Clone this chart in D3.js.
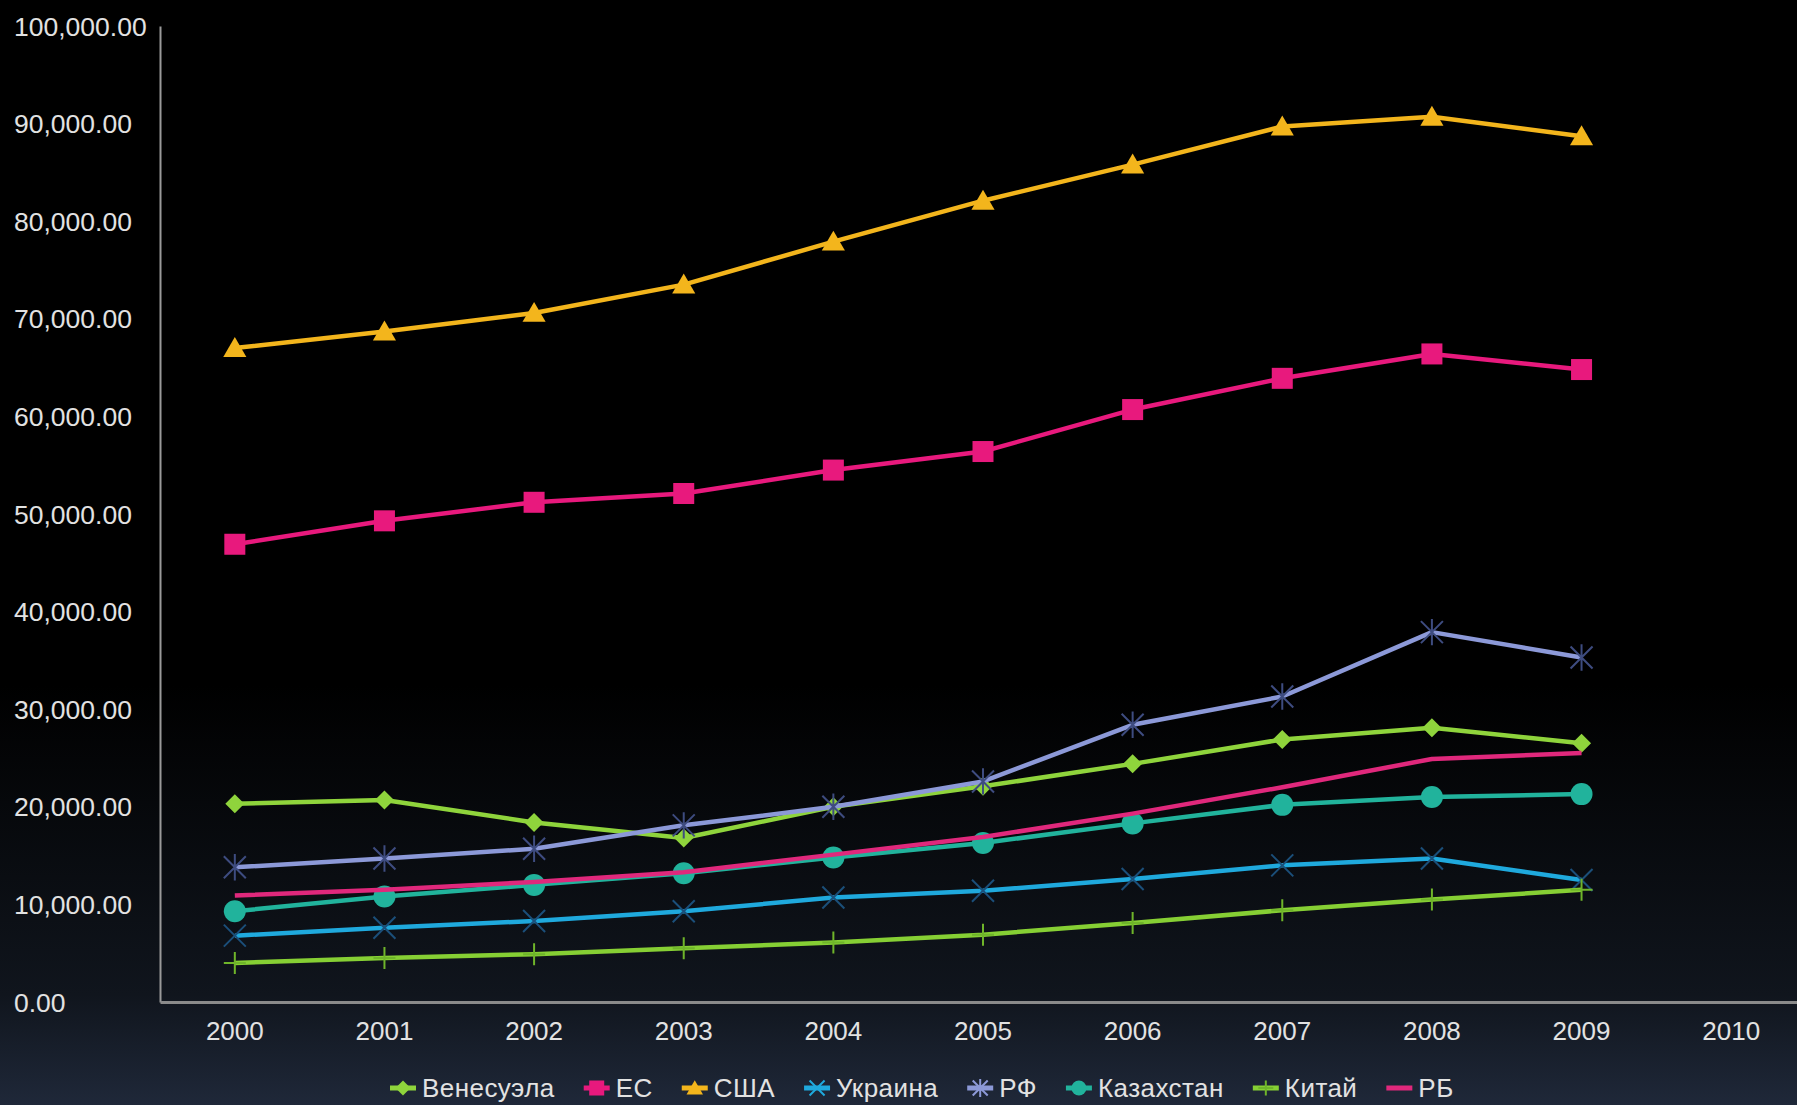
<!DOCTYPE html>
<html>
<head>
<meta charset="utf-8">
<script src="https://cdn.jsdelivr.net/npm/d3@7"></script>
<style>
html,body{margin:0;padding:0;background:#000;}
svg{display:block;}
</style>
</head>
<body>
<svg id="chart" width="1797" height="1105"></svg>
<script>
// ---- data ----
const years = ["2000","2001","2002","2003","2004","2005","2006","2007","2008","2009","2010"];
const yTicks = [0,10000,20000,30000,40000,50000,60000,70000,80000,90000,100000];
const seriesNames = ["Венесуэла","ЕС","США","Украина","РФ","Казахстан","Китай","РБ"];
const venezuela = [20300,20700,18400,16800,20000,22100,24400,26900,28100,26500];
const eu        = [46900,49300,51200,52100,54500,56400,60700,63900,66400,64800];
const usa       = [67000,68700,70600,73500,77900,82100,85800,89700,90700,88700];
const ukraine   = [6800,7600,8300,9300,10700,11400,12600,14000,14700,12500];
const russia    = [13800,14700,15700,18100,20000,22600,28400,31300,37900,35300];
const kazakh    = [9300,10800,12000,13200,14800,16300,18300,20200,21000,21300];
const china     = [4000,4500,4900,5500,6100,6900,8100,9400,10500,11500];
const belarus   = [10900,11500,12300,13300,15100,16900,19300,22000,24900,25500];

const seriesValues = [venezuela, eu, usa, ukraine, russia, kazakh, china, belarus];
const colors  = ["#8fd43c","#e8197d","#f3b51c","#1fa9dd","#8c99d8","#21b39c","#86cf34","#e0287c"];
const markers = ["diamond","square","triangle","x","asterisk","circle","plus","none"];
const markerColors = ["#8fd43c","#e8197d","#f3b51c","#1b4f7a","#3e4c80","#21b39c","#6fb52a","none"];

// ---- layout ----
const svg = d3.select("#chart");
const W = 1797, H = 1105;
const plot = {left:160, top:26, bottom:1002, right:1806};

const defs = svg.append("defs");
const grad = defs.append("linearGradient").attr("id","bg").attr("x1",0).attr("y1",0).attr("x2",0).attr("y2",1);
grad.append("stop").attr("offset","0%").attr("stop-color","#000000");
grad.append("stop").attr("offset","62%").attr("stop-color","#000000");
grad.append("stop").attr("offset","90%").attr("stop-color","#10151d");
grad.append("stop").attr("offset","100%").attr("stop-color","#1f2839");
svg.append("rect").attr("width",W).attr("height",H).attr("fill","url(#bg)");

const x = d3.scaleBand().domain(years).range([plot.left, plot.right]).padding(0);
const y = d3.scaleLinear().domain([0,100000]).range([plot.bottom, plot.top]);
const cx = d => x(d) + x.bandwidth()/2;

const fontFam = "'Liberation Sans', Arial, sans-serif";
const textColor = "#e2e2e2";

// y axis labels (left aligned)
const fmt = d3.format(",.2f");
svg.append("g").selectAll("text").data(yTicks).join("text")
  .attr("x", 14).attr("y", d => y(d)).attr("dy","0.36em")
  .attr("font-family", fontFam).attr("font-size", 26.5).attr("fill", textColor)
  .text(d => fmt(d));

// axes
const yAxis = svg.append("g").attr("transform",`translate(${plot.left},0)`)
  .call(d3.axisLeft(y).tickValues([]).tickSizeOuter(0));
yAxis.select(".domain").attr("stroke","#9a9a9a").attr("stroke-width",2);

const xAxis = svg.append("g").attr("transform",`translate(0,${plot.bottom})`)
  .call(d3.axisBottom(x).tickSize(0).tickPadding(20));
xAxis.select(".domain").attr("stroke","#8a8a8a").attr("stroke-width",3);
xAxis.selectAll("text").attr("font-family", fontFam).attr("font-size", 26)
  .attr("fill", textColor).attr("dy","0.71em");

// marker drawing
function drawMarker(g, type, px, py, col, s) {
  const r = s/2;
  if (type === "diamond") {
    g.append("path").attr("d", `M${px},${py-r}L${px+r},${py}L${px},${py+r}L${px-r},${py}Z`).attr("fill", col);
  } else if (type === "square") {
    g.append("rect").attr("x", px-r).attr("y", py-r).attr("width", s).attr("height", s).attr("fill", col);
  } else if (type === "triangle") {
    g.append("path").attr("d", `M${px},${py-r*1.05}L${px+r*1.1},${py+r*0.85}L${px-r*1.1},${py+r*0.85}Z`).attr("fill", col);
  } else if (type === "circle") {
    g.append("circle").attr("cx", px).attr("cy", py).attr("r", r).attr("fill", col);
  } else if (type === "x") {
    g.append("path").attr("d", `M${px-r},${py-r}L${px+r},${py+r}M${px-r},${py+r}L${px+r},${py-r}`)
      .attr("stroke", col).attr("stroke-width", 2).attr("fill","none");
  } else if (type === "asterisk") {
    g.append("path").attr("d", `M${px-r},${py-r}L${px+r},${py+r}M${px-r},${py+r}L${px+r},${py-r}M${px},${py-r*1.2}L${px},${py+r*1.2}`)
      .attr("stroke", col).attr("stroke-width", 2).attr("fill","none");
  } else if (type === "plus") {
    g.append("path").attr("d", `M${px},${py-r}L${px},${py+r}M${px-r},${py}L${px+r},${py}`)
      .attr("stroke", col).attr("stroke-width", 2).attr("fill","none");
  }
}
const markerSizes = {diamond:19, square:21, triangle:21, circle:22, x:22, asterisk:22, plus:22};

// lines
const line = d3.line().x((d,i) => cx(years[i])).y(d => y(d));
const seriesG = svg.append("g");
seriesValues.forEach((vals, si) => {
  const g = seriesG.append("g");
  g.append("path").datum(vals).attr("d", line)
    .attr("fill","none").attr("stroke", colors[si]).attr("stroke-width", 4.5)
    .attr("stroke-linejoin","round").attr("stroke-linecap","butt");
  if (markers[si] !== "none") {
    vals.forEach((v,i) => drawMarker(g, markers[si], cx(years[i]), y(v), markerColors[si], markerSizes[markers[si]]));
  }
});

// legend
const legend = svg.append("g");
let lx = 390;
const ly = 1088;
seriesNames.forEach((name, si) => {
  const g = legend.append("g");
  g.append("line").attr("x1", lx).attr("x2", lx+26).attr("y1", ly).attr("y2", ly)
    .attr("stroke", colors[si]).attr("stroke-width", 5);
  if (markers[si] !== "none") {
    const mc = (markers[si]==="x"||markers[si]==="asterisk") ? colors[si] : markerColors[si];
    drawMarker(g, markers[si], lx+13, ly, mc, 15);
  }
  const t = g.append("text").attr("x", lx+32).attr("y", ly).attr("dy","0.36em")
    .attr("font-family", fontFam).attr("font-size", 26).attr("letter-spacing", 0.45).attr("fill", textColor)
    .text(name);
  const w = t.node().getComputedTextLength();
  lx = lx + 32 + w + 29;
});
</script>
</body>
</html>
